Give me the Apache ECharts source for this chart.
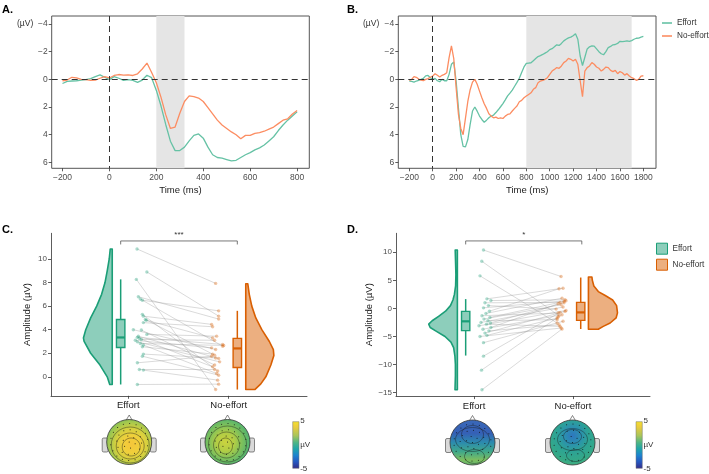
<!DOCTYPE html>
<html><head><meta charset="utf-8">
<script src="https://cdn.jsdelivr.net/npm/echarts@6/dist/echarts.min.js"></script>
<style>html,body{margin:0;padding:0;background:#fff}#c{width:709px;height:474px}</style>
</head><body><div id="c"></div>
<script>
// ---------------- DATA ----------------
const timesA = [-200,-180,-160,-140,-120,-100,-80,-60,-40,-20,0,20,40,60,80,100,120,140,160,180,200,220,240,260,280,300,320,340,360,380,400,420,440,460,480,500,520,540,560,580,600,620,640,660,680,700,720,740,760,780,800];
const effortA = [0.3,0.15,0.12,0.1,0.05,0.02,-0.05,-0.2,-0.32,-0.15,0.02,-0.2,-0.08,0.08,0.02,0.08,0.22,0.05,-0.3,-0.12,0.8,1.93,3.26,4.47,5.15,5.15,4.9,4.45,4.05,3.95,4.25,4.9,5.45,5.65,5.7,5.8,5.9,5.85,5.65,5.45,5.3,5.1,4.95,4.75,4.45,4.15,3.7,3.3,2.95,2.65,2.35];
const noEffortA = [0.1,0.05,-0.15,-0.1,0.0,0.02,0.08,0.05,-0.08,-0.2,-0.1,-0.28,-0.35,-0.3,-0.32,-0.28,-0.4,-0.75,-1.18,-0.5,0.25,1.3,2.55,3.55,3.45,2.45,1.6,1.2,1.25,1.35,1.6,2.05,2.5,2.95,3.3,3.55,3.8,4.0,4.3,4.05,4.05,3.9,3.85,3.75,3.6,3.45,3.2,2.95,2.85,2.5,2.25];

const timesB = [-200,-180,-160,-140,-120,-100,-80,-60,-40,-20,0,20,40,60,80,100,120,140,160,180,200,220,240,260,280,300,320,340,360,380,400,420,440,460,480,500,520,540,560,580,600,620,640,660,680,700,720,740,760,780,800,820,840,860,880,900,920,940,960,980,1000,1020,1040,1060,1080,1100,1120,1140,1160,1180,1200,1220,1240,1260,1280,1300,1320,1340,1360,1380,1400,1420,1440,1460,1480,1500,1520,1540,1560,1580,1600,1620,1640,1660,1680,1700,1720,1740,1760,1780,1800];
const effortB = [0.12,0.15,0.2,0.12,0.07,0.0,-0.07,-0.25,-0.28,-0.12,
  0.0,-0.07,0.1,0.17,0.0,0.1,0.1,-0.36,-1.09,-1.25,
  0.12,2.1,4.0,4.85,4.88,4.35,3.26,2.29,2.0,2.3,
  2.65,2.9,3.1,2.95,2.78,2.65,2.58,2.4,2.2,1.98,
  1.75,1.48,1.2,1.0,0.78,0.5,0.22,-0.08,-0.5,-0.9,
  -1.15,-1.18,-1.2,-1.35,-1.5,-1.65,-1.72,-1.8,-1.9,-2.0,
  -2.15,-2.22,-2.35,-2.5,-2.45,-2.6,-2.78,-2.9,-3.0,-3.05,
  -3.15,-3.3,-2.9,-1.69,-1.0,-1.6,-2.2,-2.35,-2.42,-2.4,
  -2.2,-2.0,-1.85,-1.78,-2.0,-2.3,-2.38,-2.5,-2.52,-2.6,
  -2.75,-2.72,-2.75,-2.78,-2.75,-2.8,-2.9,-2.97,-2.98,-3.05,
  -3.1];
const noEffortB = [0.07,0.0,-0.2,-0.15,-0.02,0.05,0.1,0.0,-0.05,-0.15,
  -0.24,-0.41,-0.29,-0.17,-0.29,-0.36,-0.48,-1.57,-2.42,-1.5,
  0.6,2.54,3.55,4.0,2.8,1.6,0.75,0.2,0.0,0.36,
  0.85,1.33,1.76,2.1,2.49,2.66,2.78,2.73,2.83,2.78,
  2.83,2.66,2.54,2.49,2.29,2.1,1.93,1.62,1.52,1.33,
  1.21,1.09,0.97,0.72,0.6,0.24,0.12,0.07,0.0,-0.12,
  -0.36,-0.6,-0.72,-0.85,-0.8,-0.97,-1.21,-1.33,-1.52,-1.45,
  -1.33,-1.45,-1.09,0.1,1.25,-0.6,-0.85,-0.97,-1.21,-1.09,
  -0.89,-0.8,-0.6,-0.72,-0.89,-0.85,-0.65,-0.56,-0.65,-0.41,
  -0.56,-0.48,-0.31,-0.41,-0.24,-0.12,-0.05,0.07,0.0,-0.24,
  -0.26];

const timeTicksA = [-200,0,200,400,600,800];
const timeTicksB = [-200,0,200,400,600,800,1000,1200,1400,1600,1800];
const uvTicks = [-4,-2,0,2,4,6];
const shadeA = [200,320];
const shadeB = [800,1700];

const categories = ['Effort','No-effort'];

// Panel C (paired amplitudes)
const effortC   = [10.85,8.9,8.27,6.8,6.6,6.5,5.3,5.15,4.87,4.8,4.6,4.0,3.97,3.6,3.45,3.35,3.26,3.17,3.1,2.97,2.83,2.7,2.55,1.93,1.75,1.19,0.62,0.57,-0.65];
const noEffortC = [7.93,5.15,-1.08,4.9,2.6,5.6,0.5,4.45,1.84,3.3,4.25,2.32,1.0,3.45,1.56,2.75,0.85,3.1,2.46,1.27,2.66,0.28,1.93,1.6,0.14,1.75,0.62,-0.28,-0.62];
const jitterCE  = [1.087,1.185,1.08,1.1,1.12,1.14,1.14,1.15,1.17,1.18,1.15,1.05,1.13,1.185,1.1,1.09,1.11,1.13,1.07,1.09,1.12,1.15,1.14,1.15,1.14,1.09,1.11,1.15,1.09];
const jitterCN  = [1.87,1.9,1.87,1.9,1.94,1.9,1.89,1.83,1.86,1.84,1.84,1.87,1.86,1.88,1.9,1.94,1.84,1.86,1.83,1.91,1.95,1.88,1.84,1.87,1.9,1.83,1.86,1.89,1.9];
const boxC_effort   = [-0.65,2.49,3.34,4.87,8.27];   // min, q1, median, q3, max
const boxC_noEffort = [-1.08,0.79,2.41,3.26,5.6];
const violinC_effort_y = [10.85,10,9,8,7,6,5,4,3.3,3,2,1,0,-0.65];
const violinC_effort_w = [0.02,0.03,0.05,0.072,0.106,0.155,0.215,0.264,0.287,0.28,0.215,0.122,0.05,0.025];
const violinC_noEffort_y = [7.9,7,6,5,4,3,2.3,1.8,1,0,-0.6,-1.08];
const violinC_noEffort_w = [0.02,0.035,0.06,0.1,0.16,0.235,0.275,0.28,0.25,0.2,0.15,0.09];
const amplitudeTicksC = [0,2,4,6,8,10];

// Panel D
const effortD   = [10.4,8.4,5.8,1.7,1.4,1.0,0.5,0.1,-0.5,-0.9,-1.3,-1.6,-1.9,-2.2,-2.5,-2.8,-3.1,-3.4,-3.7,-4.0,-4.4,-4.8,-5.0,-6.1,-8.5,-11.0,-14.5,-2.6];
const noEffortD = [5.68,-1.3,-2.6,3.6,1.54,1.07,-0.12,1.36,3.5,1.83,-0.83,1.24,0.65,-2.0,0.24,-3.2,-0.36,0.83,-1.12,-2.9,-0.53,-1.72,-3.5,-2.3,-0.7,-1.54,-3.67,1.0];
const jitterDE  = [1.095,1.078,1.06,1.13,1.17,1.11,1.145,1.095,1.155,1.12,1.08,1.16,1.1,1.14,1.07,1.125,1.05,1.17,1.09,1.15,1.11,1.13,1.06,1.095,1.095,1.075,1.08,1.165];
const jitterDN  = [1.88,1.86,1.84,1.9,1.92,1.87,1.83,1.93,1.86,1.89,1.85,1.91,1.88,1.84,1.9,1.87,1.93,1.85,1.89,1.86,1.92,1.84,1.88,1.9,1.87,1.85,1.89,1.91];
const boxD_effort   = [-8.4,-3.96,-2.3,-0.53,1.66];
const boxD_noEffort = [-3.67,-2.13,-0.71,1.07,5.5];
const violinD_effort_y = [10.4,8,6,4,2.5,1.5,0.5,-0.5,-1.4,-2.2,-2.8,-3.4,-4,-5,-6,-7,-8.5,-10,-12,-14.5];
const violinD_effort_w = [0.022,0.018,0.015,0.018,0.03,0.045,0.07,0.12,0.19,0.255,0.29,0.275,0.22,0.125,0.065,0.038,0.025,0.02,0.02,0.024];
const violinD_noEffort_y = [5.6,5.0,4,3,2.3,1.5,0.5,-0.8,-1.7,-2.6,-3.2,-3.7];
const violinD_noEffort_w = [0.035,0.04,0.055,0.1,0.17,0.245,0.285,0.294,0.28,0.22,0.15,0.1];
const amplitudeTicksD = [-15,-10,-5,0,5,10];

const sigC = '***';
const sigD = '*';

// ---------------- STYLE ----------------
const FONT = '"Liberation Sans", Arial, Helvetica, sans-serif';
const GREEN_LINE = '#66C2A5', ORANGE_LINE = '#FC8D62';
const GREEN = '#1B9E77', ORANGE = '#D95F02';
const GREEN_FILL = 'rgba(27,158,119,0.5)', ORANGE_FILL = 'rgba(217,95,2,0.5)';
const GREEN_PT = 'rgba(27,158,119,0.45)', ORANGE_PT = 'rgba(217,95,2,0.45)';

function fmt(v) { return v < 0 ? '\u2212' + Math.abs(v) : String(v); }
function zip(xs, ys) { return xs.map((x, i) => [x, ys[i]]); }

function erpX(gi, min, max, ticks) {
  return { type:'value', gridIndex:gi, min, max,
    axisLine:{show:false, onZero:false}, splitLine:{show:false},
    axisTick:{show:true, length:3, lineStyle:{color:'#333', width:0.8}, customValues:ticks},
    axisLabel:{customValues:ticks, formatter:fmt, fontSize:8.5, color:'#4D4D4D', margin:5, fontFamily:FONT},
    name:'Time (ms)', nameLocation:'middle', nameGap:17,
    nameTextStyle:{fontSize:9.5, color:'#1A1A1A', fontFamily:FONT} };
}
function erpY(gi) {
  return { type:'value', gridIndex:gi, min:-4.58, max:6.43, inverse:true,
    axisLine:{show:false, onZero:false}, splitLine:{show:false},
    axisTick:{show:true, length:3, lineStyle:{color:'#333', width:0.8}, customValues:uvTicks},
    axisLabel:{customValues:uvTicks, formatter:fmt, fontSize:8.5, color:'#4D4D4D', margin:4, fontFamily:FONT} };
}
function ampX(gi, min, max) {
  return { type:'value', gridIndex:gi, min, max,
    axisLine:{show:true, onZero:false, lineStyle:{color:'#333', width:0.8}}, splitLine:{show:false},
    axisTick:{show:true, length:3, lineStyle:{color:'#333', width:0.8}, customValues:[1,2]},
    axisLabel:{customValues:[1,2], formatter:v => categories[Math.round(v) - 1] || '', fontSize:9.5, color:'#1A1A1A', margin:5, fontFamily:FONT} };
}
function ampY(gi, min, max, ticks, gap) {
  return { type:'value', gridIndex:gi, min, max,
    axisLine:{show:true, onZero:false, lineStyle:{color:'#333', width:0.8}}, splitLine:{show:false},
    axisTick:{show:true, length:3, lineStyle:{color:'#333', width:0.8}, customValues:ticks},
    axisLabel:{customValues:ticks, formatter:fmt, fontSize:8, color:'#4D4D4D', margin:4, fontFamily:FONT},
    name:'Amplitude (\u00B5V)', nameLocation:'middle', nameGap:gap,
    nameTextStyle:{fontSize:9.5, color:'#1A1A1A', fontFamily:FONT} };
}

function erpBackground(gi, shade) {
  return { type:'line', name:'_bg' + gi, xAxisIndex:gi, yAxisIndex:gi, data:[], z:1, silent:true,
    markArea:{ silent:true, itemStyle:{color:'#E5E5E5'}, data:[[{xAxis:shade[0]},{xAxis:shade[1]}]] },
    markLine:{ silent:true, symbol:'none', label:{show:false}, animation:false,
      lineStyle:{color:'#333', type:[6,4], width:1}, data:[{yAxis:0},{xAxis:0}] } };
}
function erpLine(gi, name, times, vals, color) {
  return { type:'line', name, xAxisIndex:gi, yAxisIndex:gi, data:zip(times, vals), z:3,
    showSymbol:false, symbol:'none', lineStyle:{color, width:1.3}, itemStyle:{color}, silent:true };
}

function violin(gi, base, dir, ys, ws, stroke, fill) {
  const pts = ys.map((y, i) => [base + dir * ws[i], y]);
  return { type:'custom', xAxisIndex:gi, yAxisIndex:gi, silent:true, z:4, data:pts, encode:{x:0, y:1},
    renderItem: function (params, api) {
      if (params.dataIndex !== 0) return null;
      const poly = [api.coord([base, ys[0]])];
      pts.forEach(p => poly.push(api.coord(p)));
      poly.push(api.coord([base, ys[ys.length - 1]]));
      return { type:'polygon', shape:{points:poly}, style:{fill, stroke, lineWidth:1.6, lineJoin:'round'} };
    } };
}
function box(gi, x, stats, stroke, fill) {
  return { type:'custom', xAxisIndex:gi, yAxisIndex:gi, silent:true, z:4,
    data:[[x].concat(stats)], encode:{x:0, y:[1,5]},
    renderItem: function (params, api) {
      const xv = api.value(0), hw = 0.042;
      const mn = api.value(1), q1 = api.value(2), md = api.value(3), q3 = api.value(4), mx = api.value(5);
      const top = api.coord([xv, mx]), a = api.coord([xv, q3]), b = api.coord([xv, q1]), bot = api.coord([xv, mn]);
      const tl = api.coord([xv - hw, q3]), br = api.coord([xv + hw, q1]);
      const m1 = api.coord([xv - hw, md]), m2 = api.coord([xv + hw, md]);
      return { type:'group', children:[
        { type:'line', shape:{x1:top[0], y1:top[1], x2:a[0], y2:a[1]}, style:{stroke, lineWidth:1.5} },
        { type:'line', shape:{x1:b[0], y1:b[1], x2:bot[0], y2:bot[1]}, style:{stroke, lineWidth:1.5} },
        { type:'rect', shape:{x:tl[0], y:tl[1], width:br[0]-tl[0], height:br[1]-tl[1]}, style:{fill, stroke, lineWidth:1.4} },
        { type:'line', shape:{x1:m1[0], y1:m1[1], x2:m2[0], y2:m2[1]}, style:{stroke, lineWidth:2.2} }
      ] };
    } };
}
function pairLines(gi, xe, ye, xn, yn) {
  const rows = ye.map((v, i) => [xe[i], v, xn[i], yn[i]]);
  return { type:'custom', xAxisIndex:gi, yAxisIndex:gi, silent:true, z:2, data:rows, encode:{x:[0,2], y:[1,3]},
    renderItem: function (params, api) {
      const p1 = api.coord([api.value(0), api.value(1)]);
      const p2 = api.coord([api.value(2), api.value(3)]);
      return { type:'line', shape:{x1:p1[0], y1:p1[1], x2:p2[0], y2:p2[1]}, style:{stroke:'rgba(150,150,150,0.45)', lineWidth:0.8} };
    } };
}
function points(gi, xs, ys, color) {
  return { type:'scatter', xAxisIndex:gi, yAxisIndex:gi, silent:true, z:3, data:zip(xs, ys),
    symbolSize:3.4, itemStyle:{color} };
}
function bracket(gi, x1, x2, y, label) {
  return { type:'custom', xAxisIndex:gi, yAxisIndex:gi, silent:true, z:4, data:[[x1, x2, y]], encode:{x:[0,1], y:2},
    renderItem: function (params, api) {
      const a = api.coord([api.value(0), api.value(2)]);
      const b = api.coord([api.value(1), api.value(2)]);
      return { type:'group', children:[
        { type:'polyline', shape:{points:[[a[0], a[1]+3.5],[a[0], a[1]],[b[0], b[1]],[b[0], b[1]+3.5]]}, style:{stroke:'#555', lineWidth:0.8, fill:'none'} },
        { type:'text', style:{text:label, x:(a[0]+b[0])/2, y:a[1]-2, align:'center', verticalAlign:'bottom', fontSize:8, fill:'#333', fontFamily:FONT} }
      ] };
    } };
}

// ---------------- TOPOMAP GRAPHICS ----------------
function head(cx, cy, fill, rings) {
  const r = 22.5, els = [];
  els.push({ type:'rect', shape:{x:cx-r-4.5, y:cy-4, width:6, height:14, r:1.5}, style:{fill:'#D9D9D9', stroke:'#555', lineWidth:0.7} });
  els.push({ type:'rect', shape:{x:cx+r-1.5, y:cy-4, width:6, height:14, r:1.5}, style:{fill:'#D9D9D9', stroke:'#555', lineWidth:0.7} });
  els.push({ type:'polygon', shape:{points:[[cx-3.5, cy-r+1.5],[cx, cy-r-4.5],[cx+3.5, cy-r+1.5]]}, style:{fill:'#fff', stroke:'#555', lineWidth:0.7} });
  els.push({ type:'circle', shape:{cx, cy, r}, style:{fill, stroke:'#333', lineWidth:0.8} });
  rings.forEach(q => els.push({ type:'ellipse', shape:{cx:cx+q[0], cy:cy+q[1], rx:q[2], ry:q[3]}, style:{fill:'none', stroke:'rgba(25,25,25,0.7)', lineWidth:0.6} }));
  for (let k = 1; k <= 3; k++) {
    const n = 6 * k;
    for (let j = 0; j < n; j++) {
      const ang = (j / n) * Math.PI * 2 + k * 0.3;
      els.push({ type:'circle', shape:{cx:cx + Math.cos(ang) * 6.2 * k, cy:cy + Math.sin(ang) * 6.2 * k, r:0.5}, style:{fill:'#111'} });
    }
  }
  els.push({ type:'circle', shape:{cx, cy, r:0.5}, style:{fill:'#111'} });
  return els;
}
function colorbar(x, y, label) {
  return [
    { type:'rect', shape:{x, y, width:6.3, height:46.6},
      style:{ fill:{ type:'linear', x:0, y:0, x2:0, y2:1, colorStops:[
        {offset:0, color:'#F5E12C'},{offset:0.12, color:'#EACB3F'},{offset:0.3, color:'#A9C55A'},
        {offset:0.45, color:'#4DB585'},{offset:0.58, color:'#1FA6A9'},{offset:0.72, color:'#1D83CF'},
        {offset:0.86, color:'#2656C0'},{offset:1, color:'#332C86'}] }, stroke:'#777', lineWidth:0.5 } },
    { type:'text', style:{text:'5', x:x+7.5, y:y-1, align:'left', verticalAlign:'middle', fontSize:8, fill:'#333', fontFamily:FONT} },
    { type:'text', style:{text:label, x:x+7.5, y:y+23, align:'left', verticalAlign:'middle', fontSize:8, fill:'#333', fontFamily:FONT} },
    { type:'text', style:{text:'-5', x:x+7.5, y:y+47, align:'left', verticalAlign:'middle', fontSize:8, fill:'#333', fontFamily:FONT} }
  ];
}
function radial(x, y, r, stops) { return { type:'radial', x, y, r, colorStops:stops.map(s => ({offset:s[0], color:s[1]})) }; }
function linear(stops) { return { type:'linear', x:0, y:0, x2:0, y2:1, colorStops:stops.map(s => ({offset:s[0], color:s[1]})) }; }

const graphics = [].concat(
  head(129.2, 442, radial(0.55, 0.55, 0.62, [[0,'#F6C63A'],[0.3,'#F0CF3B'],[0.55,'#D6D03F'],[0.8,'#A0C74F'],[1,'#78BF5F']]),
    [[1,3,19,18],[1,4,14,13],[2,5,9,9]]),
  head(227.5, 442, radial(0.45, 0.5, 0.65, [[0,'#CBD33E'],[0.3,'#B2CD45'],[0.55,'#80C15A'],[0.8,'#55B46E'],[1,'#3CAB7A']]),
    [[0,2,19,18],[-1,3,13,13],[-2,4,7,8]]),
  head(472.5, 442.5, linear([[0,'#3A68B8'],[0.3,'#3560B6'],[0.5,'#2C8BAE'],[0.7,'#40A88A'],[0.88,'#7DBE60'],[1,'#62B76F']]),
    [[0,-8,11,9],[0,-3,17,12],[2,14,10,7]]),
  head(572.5, 442.5, radial(0.5, 0.35, 0.7, [[0,'#2E77BF'],[0.25,'#2B8FB0'],[0.5,'#2DA395'],[0.8,'#35A986'],[1,'#4DB07A']]),
    [[0,-6,9,7],[0,-3,15,11],[3,13,9,6]]),
  colorbar(292.7, 421.7, '\u00B5V'),
  colorbar(636, 421.7, '\u00B5V'),
  [
    { type:'text', style:{text:'A.', x:2, y:4, fontSize:11, fontWeight:'bold', fill:'#000', fontFamily:FONT} },
    { type:'text', style:{text:'B.', x:347, y:4, fontSize:11, fontWeight:'bold', fill:'#000', fontFamily:FONT} },
    { type:'text', style:{text:'C.', x:2, y:224, fontSize:11, fontWeight:'bold', fill:'#000', fontFamily:FONT} },
    { type:'text', style:{text:'D.', x:347, y:224, fontSize:11, fontWeight:'bold', fill:'#000', fontFamily:FONT} },
    { type:'text', style:{text:'(\u00B5V)', x:17, y:24, verticalAlign:'middle', fontSize:8.5, fill:'#333', fontFamily:FONT} },
    { type:'text', style:{text:'(\u00B5V)', x:363, y:24, verticalAlign:'middle', fontSize:8.5, fill:'#333', fontFamily:FONT} }
  ]
);

// ---------------- OPTION ----------------
const option = {
  animation:false,
  backgroundColor:'#fff',
  textStyle:{fontFamily:FONT},
  grid:[
    {left:51.7, top:16, width:257.6, height:152.3, show:true, borderColor:'#555', borderWidth:1, outerBoundsMode:'none'},
    {left:398.3, top:16, width:257.7, height:152.3, show:true, borderColor:'#555', borderWidth:1, outerBoundsMode:'none'},
    {left:51, top:233.3, width:256, height:162.5, outerBoundsMode:'none'},
    {left:396, top:233.3, width:254, height:162.8, outerBoundsMode:'none'}
  ],
  xAxis:[ erpX(0, -246, 852, timeTicksA), erpX(1, -294, 1908, timeTicksB), ampX(2, 0.23, 2.78), ampX(3, 0.21, 2.78) ],
  yAxis:[ erpY(0), erpY(1), ampY(2, -1.61, 12.18, amplitudeTicksC, 19), ampY(3, -15.62, 13.38, amplitudeTicksD, 18) ],
  legend:[
    { left:662, top:19, orient:'vertical', padding:0, itemWidth:10, itemHeight:1.6, itemGap:5, selectedMode:false,
      textStyle:{fontSize:8.2, color:'#333', fontFamily:FONT},
      data:[{name:'Effort', icon:'rect', itemStyle:{color:GREEN_LINE}}, {name:'No-effort', icon:'rect', itemStyle:{color:ORANGE_LINE}}] },
    { left:656, top:242.7, orient:'vertical', padding:0, itemWidth:11, itemHeight:11, itemGap:4, selectedMode:false,
      textStyle:{fontSize:8.2, color:'#333', fontFamily:FONT},
      data:[{name:'Effort', icon:'rect', itemStyle:{color:GREEN_FILL, borderColor:GREEN, borderWidth:1}},
            {name:'No-effort', icon:'rect', itemStyle:{color:ORANGE_FILL, borderColor:ORANGE, borderWidth:1}}] }
  ],
  series:[
    erpBackground(0, shadeA),
    erpLine(0, 'Effort', timesA, effortA, GREEN_LINE),
    erpLine(0, 'No-effort', timesA, noEffortA, ORANGE_LINE),
    erpBackground(1, shadeB),
    erpLine(1, 'Effort', timesB, effortB, GREEN_LINE),
    erpLine(1, 'No-effort', timesB, noEffortB, ORANGE_LINE),

    pairLines(2, jitterCE, effortC, jitterCN, noEffortC),
    points(2, jitterCE, effortC, GREEN_PT),
    points(2, jitterCN, noEffortC, ORANGE_PT),
    violin(2, 0.84, -1, violinC_effort_y, violinC_effort_w, GREEN, GREEN_FILL),
    violin(2, 2.17, 1, violinC_noEffort_y, violinC_noEffort_w, ORANGE, ORANGE_FILL),
    box(2, 0.924, boxC_effort, GREEN, GREEN_FILL),
    box(2, 2.086, boxC_noEffort, ORANGE, ORANGE_FILL),
    bracket(2, 0.924, 2.086, 11.53, sigC),

    pairLines(3, jitterDE, effortD, jitterDN, noEffortD),
    points(3, jitterDE, effortD, GREEN_PT),
    points(3, jitterDN, noEffortD, ORANGE_PT),
    violin(3, 0.831, -1, violinD_effort_y, violinD_effort_w, GREEN, GREEN_FILL),
    violin(3, 2.157, 1, violinD_noEffort_y, violinD_noEffort_w, ORANGE, ORANGE_FILL),
    box(3, 0.915, boxD_effort, GREEN, GREEN_FILL),
    box(3, 2.079, boxD_noEffort, ORANGE, ORANGE_FILL),
    bracket(3, 0.915, 2.09, 12.02, sigD)
  ],
  graphic:{ elements: graphics }
};

const chart = echarts.init(document.getElementById('c'), null, {renderer:'canvas'});
chart.setOption(option);
</script></body></html>
